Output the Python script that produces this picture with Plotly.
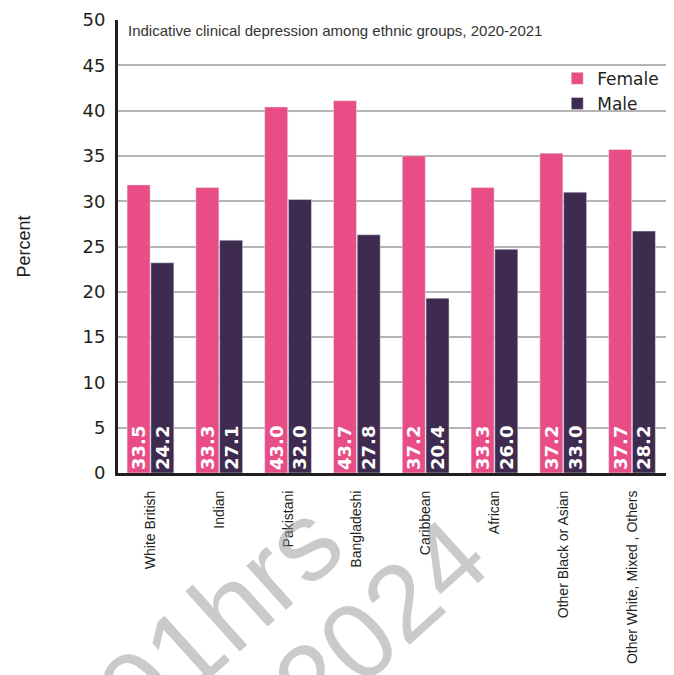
import plotly.graph_objects as go

categories = ["White British", "Indian", "Pakistani", "Bangladeshi", "Caribbean",
              "African", "Other Black or Asian", "Other White, Mixed , Others"]
female_values = [31.8, 31.5, 40.4, 41.1, 35.0, 31.5, 35.3, 35.7]
male_values = [23.2, 25.7, 30.2, 26.3, 19.3, 24.7, 31.0, 26.7]
female_labels = ["33.5", "33.3", "43.0", "43.7", "37.2", "33.3", "37.2", "37.7"]
male_labels = ["24.2", "27.1", "32.0", "27.8", "20.4", "26.0", "33.0", "28.2"]
y_ticks = [0, 5, 10, 15, 20, 25, 30, 35, 40, 45, 50]

FONT = "Liberation Sans"
WIDE = "DejaVu Sans"
PINK = "#E84D86"
PURPLE = "#3E2B4F"
INK = "#231F20"
WATERMARK = "rgba(150,150,150,0.5)"

fig = go.Figure()
for name, vals, labels, color in [("Female", female_values, female_labels, PINK),
                                  ("Male", male_values, male_labels, PURPLE)]:
    fig.add_trace(go.Bar(
        x=categories, y=vals, name=name, marker_color=color,
        text=labels, textposition="inside", insidetextanchor="start",
        textangle=-90,
        textfont=dict(family=WIDE, size=18, color="white", weight="bold"),
    ))

fig.update_layout(
    width=666, height=667,
    margin=dict(l=110, r=0, t=12, b=202, autoexpand=False),
    paper_bgcolor="white", plot_bgcolor="white",
    barmode="group", bargap=0.31, bargroupgap=0.03,
    font=dict(family=FONT, color=INK),
    uniformtext=dict(minsize=18, mode="show"),
    showlegend=True,
    legend=dict(x=0.79, y=0.91, xanchor="left", yanchor="top",
                font=dict(family=WIDE, size=17, color=INK),
                bgcolor="rgba(0,0,0,0)", tracegroupgap=0, itemwidth=30),
    xaxis=dict(
        range=[-0.472, 7.61], showgrid=False, showline=True, automargin=False,
        linecolor=INK, linewidth=3, ticks="", tickangle=-90,
        tickfont=dict(family=FONT, size=14, color=INK),
        ticklabelstandoff=9,
    ),
    yaxis=dict(
        range=[0, 50], tickvals=y_ticks, showgrid=True, gridcolor="#B5B5B5",
        gridwidth=1.5, showline=True, linecolor=INK, linewidth=3,
        zeroline=False, ticks="", automargin=False,
        tickfont=dict(family=WIDE, size=18, color=INK),
        ticklabelstandoff=6,
        title=dict(text="Percent", font=dict(family=FONT, size=18, color=INK),
                   standoff=48),
    ),
)

fig.add_annotation(
    text="Indicative clinical depression among ethnic groups, 2020-2021",
    xref="paper", yref="paper", x=0.015, y=0.976, xanchor="left", yanchor="middle",
    showarrow=False, font=dict(family=FONT, size=15, color="#333333"),
)

# watermark
fig.add_annotation(text="01hrs", xref="paper", yref="paper", x=0.184, y=-0.32,
                   xanchor="center", yanchor="middle",
                   showarrow=False, textangle=-42,
                   font=dict(family=FONT, size=112, color=WATERMARK))
fig.add_annotation(text="2024", xref="paper", yref="paper", x=0.472, y=-0.325,
                   xanchor="center", yanchor="middle",
                   showarrow=False, textangle=-42,
                   font=dict(family=FONT, size=108, color=WATERMARK))

fig.write_html("out.html")
